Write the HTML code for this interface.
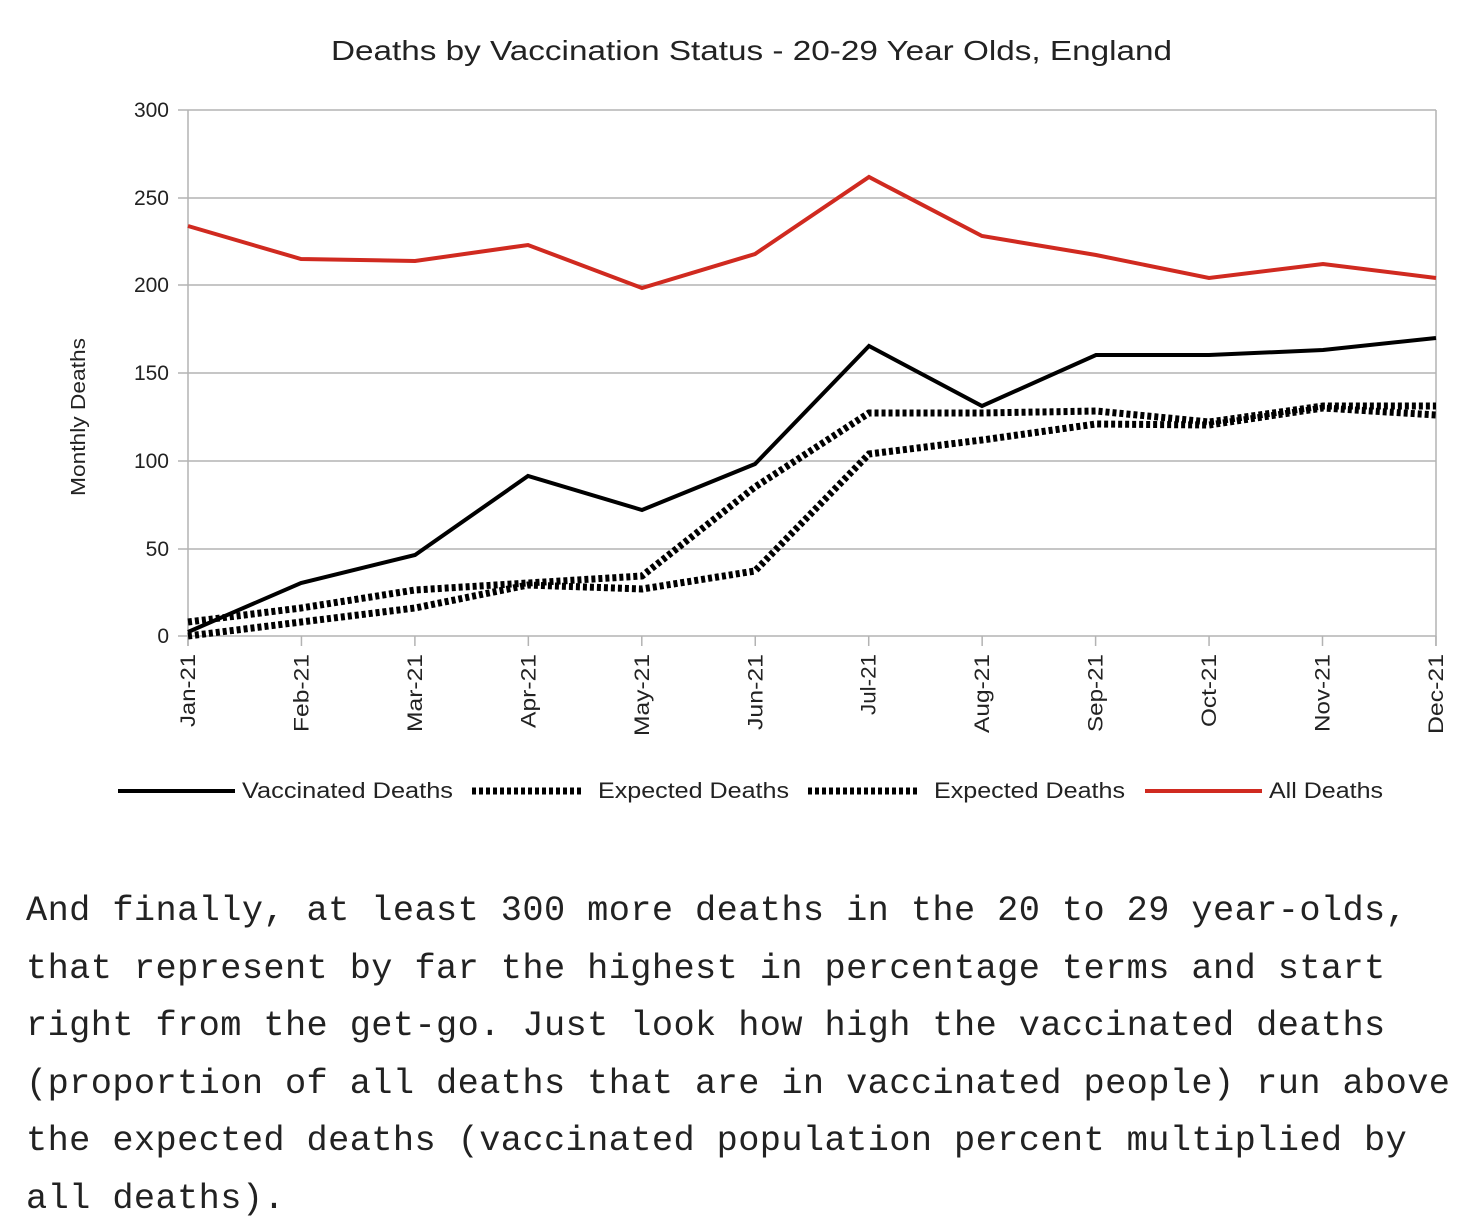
<!DOCTYPE html>
<html><head><meta charset="utf-8"><style>
body{margin:0;background:#fff;width:1482px;height:1232px;overflow:hidden}
svg{position:absolute;left:0;top:0}
.p{position:absolute;left:26px;top:883px;font-family:"Liberation Mono",monospace;font-size:35.3px;line-height:57.6px;color:#222;white-space:pre;letter-spacing:0.4px}
</style></head><body>
<svg width="1482" height="860" font-family="Liberation Sans, sans-serif">
<text x="331" y="60" font-size="28" textLength="841" lengthAdjust="spacingAndGlyphs" fill="#222">Deaths by Vaccination Status - 20-29 Year Olds, England</text>
<g stroke="#b3b3b3" stroke-width="1.5">
<line x1="178" y1="110" x2="1436" y2="110"/><line x1="178" y1="198" x2="1436" y2="198"/>
<line x1="178" y1="285" x2="1436" y2="285"/><line x1="178" y1="373" x2="1436" y2="373"/>
<line x1="178" y1="461" x2="1436" y2="461"/><line x1="178" y1="549" x2="1436" y2="549"/>
<line x1="178" y1="636" x2="1436" y2="636"/>
<line x1="188" y1="110" x2="188" y2="646"/><line x1="1436" y1="110" x2="1436" y2="646"/>
</g>
<g stroke="#b3b3b3" stroke-width="1.5" id="t"></g>
<g font-size="21" fill="#222" text-anchor="end">
<text x="169" y="117">300</text><text x="169" y="205">250</text><text x="169" y="292">200</text>
<text x="169" y="380">150</text><text x="169" y="468">100</text><text x="169" y="556">50</text><text x="169" y="643">0</text>
</g>
<text transform="translate(85,496) rotate(-90)" font-size="20" textLength="158" lengthAdjust="spacingAndGlyphs" fill="#222">Monthly Deaths</text>
<g font-size="21" fill="#222" id="xl"></g>
<polyline fill="none" stroke="#d02a20" stroke-width="4" points="188,226 301,259 415,261 528,245 642,288 755,254 869,177 982,236 1096,255 1209,278 1323,264 1436,278"/>
<polyline fill="none" stroke="#000" stroke-width="4" points="188,632 301,583 415,555 528,476 642,510 755,464 869,346 982,406 1096,355 1209,355 1323,350 1436,338"/>
<polyline fill="none" stroke="#000" stroke-width="7" stroke-dasharray="4,3" points="188,622 301,608 415,590 528,583 642,576 755,487 869,413 982,413 1096,411 1209,422 1323,406 1436,406"/>
<polyline fill="none" stroke="#000" stroke-width="7" stroke-dasharray="4,3" points="188,636 301,622 415,608 528,585 642,589 755,571 869,454 982,440 1096,424 1209,425 1323,408 1436,415"/>
<g font-size="22" fill="#222">
<line x1="118" y1="791" x2="235" y2="791" stroke="#000" stroke-width="4"/><text x="242" y="798" textLength="211" lengthAdjust="spacingAndGlyphs">Vaccinated Deaths</text>
<line x1="472" y1="791" x2="584" y2="791" stroke="#000" stroke-width="7" stroke-dasharray="4,3"/><text x="598" y="798" textLength="191" lengthAdjust="spacingAndGlyphs">Expected Deaths</text>
<line x1="808" y1="791" x2="920" y2="791" stroke="#000" stroke-width="7" stroke-dasharray="4,3"/><text x="934" y="798" textLength="191" lengthAdjust="spacingAndGlyphs">Expected Deaths</text>
<line x1="1145" y1="791" x2="1262" y2="791" stroke="#d02a20" stroke-width="4"/><text x="1269" y="798" textLength="114" lengthAdjust="spacingAndGlyphs">All Deaths</text>
</g>
</svg>
<script>
var m=["Jan-21","Feb-21","Mar-21","Apr-21","May-21","Jun-21","Jul-21","Aug-21","Sep-21","Oct-21","Nov-21","Dec-21"],w=[73,78,78,74,82,76,61,79,78,73,78,80],t=document.getElementById('t'),xl=document.getElementById('xl'),ns="http://www.w3.org/2000/svg";
m.forEach(function(s,i){var x=188+i*113.45;var l=document.createElementNS(ns,'line');l.setAttribute('x1',x);l.setAttribute('x2',x);l.setAttribute('y1',636);l.setAttribute('y2',646);t.appendChild(l);
var e=document.createElementNS(ns,'text');e.setAttribute('transform','translate('+(x+7)+','+(654+w[i])+') rotate(-90)');e.setAttribute('textLength',w[i]);e.setAttribute('lengthAdjust','spacingAndGlyphs');e.textContent=s;xl.appendChild(e);});
</script>
<div class="p">And finally, at least 300 more deaths in the 20 to 29 year-olds,
that represent by far the highest in percentage terms and start
right from the get-go. Just look how high the vaccinated deaths
(proportion of all deaths that are in vaccinated people) run above
the expected deaths (vaccinated population percent multiplied by
all deaths).</div>
</body></html>
